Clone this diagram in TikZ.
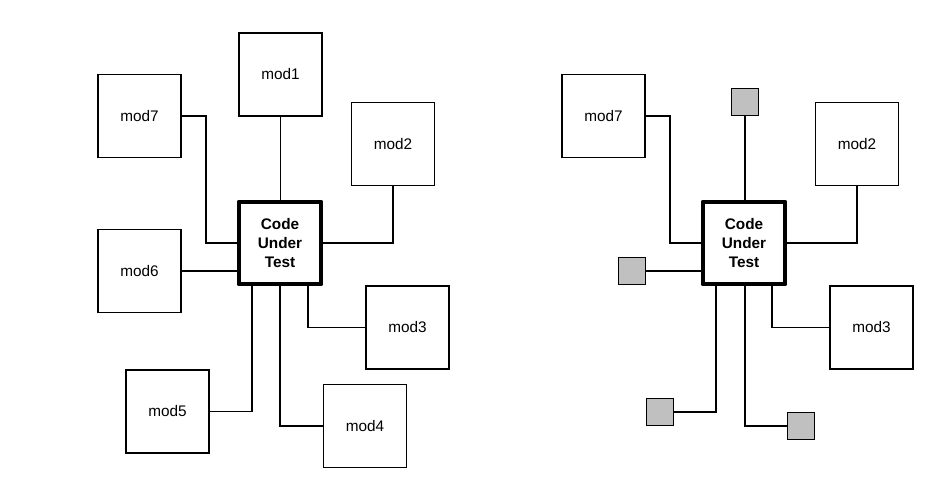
\documentclass[tikz,border=0pt]{standalone}
\usepackage{fontspec}
\setmainfont{Liberation Sans}
\definecolor{stubgray}{HTML}{C0C0C0}

\begin{document}
\begin{tikzpicture}[x = 0.75pt, y = -0.75pt,
		mod/.style = {draw, line width = 1.2pt, minimum size = 62.5pt, inner sep = 0pt, font = \fontsize{11.5}{14}\selectfont},
		cut/.style = {draw, line width = 3pt, line join = round, minimum size = 62pt, inner sep = 0pt, align = center, font = \fontsize{11.5}{14.5}\selectfont\bfseries},
		stub/.style = {draw, line width = 1.2pt, fill = stubgray, minimum size = 20.5pt, inner sep = 0pt},
		link/.style = {line width = 1.3pt}]
		\useasboundingbox (0,0) rectangle (932,494);
		% real modules
		\node[cut] (cutA) at (280,243) {Code\\Under\\Test};
		\node[mod] (mod1A) at (280.5,74.5) {mod1};
		\node[mod] (mod2A) at (393,144) {mod2};
		\node[mod] (mod3A) at (407.5,327.5) {mod3};
		\node[mod] (mod4A) at (365,426) {mod4};
		\node[mod] (mod5A) at (167.5,411.5) {mod5};
		\node[mod] (mod6A) at (139.5,271) {mod6};
		\node[mod] (mod7A) at (139.5,116) {mod7};
		\draw[link] (mod1A.south) -- (mod1A.south |- cutA.north);
		\draw[link] (mod2A.south) |- (cutA.east);
		\draw[link] ([xshift = 21pt]cutA.south) |- (mod3A.west);
		\draw[link] (cutA.south) |- (mod4A.west);
		\draw[link] ([xshift = -21pt]cutA.south) |- (mod5A.east);
		\draw[link] (mod6A.east) -- (mod6A.east -| cutA.west);
		\draw[link] (mod7A.east) -- ++(24,0) |- (cutA.west);
		% some modules replaced by stubs
		\node[cut] (cutB) at (744,243) {Code\\Under\\Test};
		\node[stub] (stub1B) at (745,102) {};
		\node[mod] (mod2B) at (857,144) {mod2};
		\node[mod] (mod3B) at (871.5,327.5) {mod3};
		\node[stub] (stub4B) at (801,426) {};
		\node[stub] (stub5B) at (660,412) {};
		\node[stub] (stub6B) at (632,271) {};
		\node[mod] (mod7B) at (603.5,116) {mod7};
		\draw[link] (stub1B.south) -- (stub1B.south |- cutB.north);
		\draw[link] (mod2B.south) |- (cutB.east);
		\draw[link] ([xshift = 21pt]cutB.south) |- (mod3B.west);
		\draw[link] ([xshift = 0.75pt]cutB.south) |- (stub4B.west);
		\draw[link] ([xshift = -21pt]cutB.south) |- (stub5B.east);
		\draw[link] (stub6B.east) -- (stub6B.east -| cutB.west);
		\draw[link] (mod7B.east) -- ++(24,0) |- (cutB.west);
	\end{tikzpicture}
\end{document}
